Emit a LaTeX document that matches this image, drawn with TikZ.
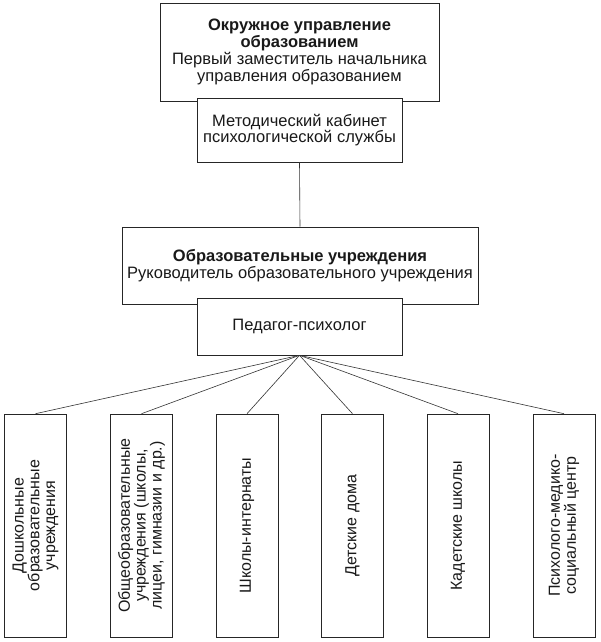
\documentclass[tikz,border=0pt]{standalone}
\usepackage{fontspec}
\setmainfont{Liberation Sans}
\begin{document}
\begin{tikzpicture}[x=1pt,y=-1pt,
  box/.style={draw=black!85, line width=0.6pt, fill=white, inner sep=0pt, align=center,
    font=\fontsize{16.5}{16.8}\selectfont, text=black!90},
  vbox/.style={box, rotate=90, minimum width=223pt, minimum height=62pt,
    font=\fontsize{16}{15.8}\selectfont},
  link/.style={draw=black!80, line width=0.6pt}]
\useasboundingbox (0,0) rectangle (600,642);
\node[box, minimum width=279pt, minimum height=98pt] (okr) at (299.5,52)
  {\textbf{Окружное управление}\\\textbf{образованием}\\Первый заместитель начальника\\управления образованием};
\node[box, minimum width=205pt, minimum height=64pt] (met) at (299.5,130)
  {Методический кабинет\\психологической службы};
\node[box, minimum width=356pt, minimum height=77pt] (mid) at (300,265.5)
  {\textbf{Образовательные учреждения}\\Руководитель образовательного учреждения};
\node[box, minimum width=205pt, minimum height=57pt] (ped) at (299.5,326.5)
  {Педагог-психолог};
\draw[link] (met.south) -- (mid.north);
\node[vbox] (b1) at (35.5,525.5) {Дошкольные\\образовательные\\учреждения};
\node[vbox] (b2) at (141.5,525.5) {Общеобразовательные\\учреждения (школы,\\лицеи, гимназии и др.)};
\node[vbox] (b3) at (247,525.5) {Школы-интернаты};
\node[vbox] (b4) at (352.5,525.5) {Детские дома};
\node[vbox] (b5) at (458,525.5) {Кадетские школы};
\node[vbox] (b6) at (564,525.5) {Психолого-медико-\\социальный центр};
\foreach \b in {b1,b2,b3,b4,b5,b6} \draw[link] (ped.south) -- (\b.east);
\end{tikzpicture}
\end{document}
